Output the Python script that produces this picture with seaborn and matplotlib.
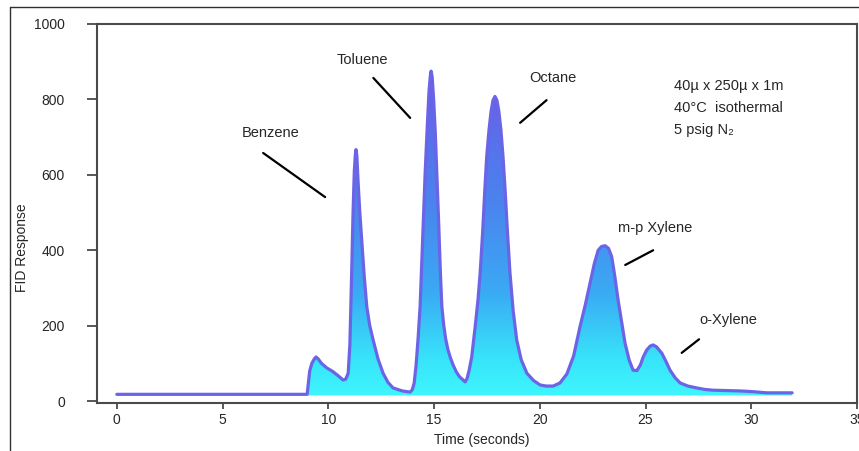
import numpy as np
import pandas as pd
import matplotlib.pyplot as plt
import seaborn as sns
from matplotlib.colors import LinearSegmentedColormap
from matplotlib.lines import Line2D

# chromatogram trace (seconds, FID response)
time = [0.0, 9.0, 9.05, 9.12, 9.22, 9.34, 9.42, 9.52, 9.68, 9.93, 10.2,
        10.45, 10.7, 10.82, 10.94, 11.02, 11.1, 11.17, 11.23, 11.28, 11.31,
        11.35, 11.41, 11.49, 11.58, 11.7, 11.82, 11.96, 12.12, 12.35, 12.59,
        12.82, 13.06, 13.5, 13.87, 13.97, 14.06, 14.15, 14.25, 14.34, 14.45,
        14.58, 14.68, 14.76, 14.82, 14.86, 14.91, 14.98, 15.06, 15.13, 15.22,
        15.3, 15.37, 15.46, 15.55, 15.65, 15.76, 15.9, 16.05, 16.2, 16.37,
        16.47, 16.56, 16.66, 16.78, 16.95, 17.08, 17.18, 17.3, 17.4, 17.49,
        17.6, 17.7, 17.79, 17.88, 17.97, 18.06, 18.16, 18.26, 18.36, 18.47,
        18.59, 18.74, 18.91, 19.12, 19.39, 19.7, 20.01, 20.3, 20.63, 20.95,
        21.28, 21.6, 21.9, 22.15, 22.38, 22.58, 22.76, 22.92, 23.09, 23.25,
        23.4, 23.55, 23.7, 23.87, 24.03, 24.22, 24.41, 24.59, 24.75, 24.89,
        25.05, 25.22, 25.36, 25.52, 25.77, 25.96, 26.16, 26.4, 26.64, 27.0,
        27.42, 27.8, 28.19, 28.8, 29.47, 30.1, 30.73, 31.3, 31.93]
resp = [18, 18, 45, 80, 100, 112, 117, 112, 100, 88, 79,
        68, 56, 58, 74, 150, 330, 500, 610, 655, 667,
        650, 580, 500, 428, 330, 250, 200, 162, 112, 74,
        50, 35, 27, 24, 30, 48, 95, 170, 250, 410,
        606, 730, 820, 860, 875, 860, 800, 710, 606, 470,
        340, 250, 200, 165, 138, 117, 96, 78, 65, 56,
        51, 60, 82, 117, 200, 270, 340, 450, 560, 649,
        720, 770, 798, 808, 798, 770, 720, 649, 560, 450,
        340, 240, 162, 110, 74, 55, 43, 40, 40, 48,
        72, 120, 197, 255, 314, 365, 400, 410, 412, 405,
        383, 330, 269, 210, 154, 110, 82, 81, 95, 117,
        135, 146, 149, 144, 127, 106, 82, 62, 48, 40,
        35, 31, 29, 28, 27, 25, 22, 22, 22]

peak_names = ['Benzene', 'Toluene', 'Octane', 'm-p Xylene', 'o-Xylene']
conditions = ['40\u00b5 x 250\u00b5 x 1m', '40\u00b0C  isothermal', '5 psig N\u2082']

df = pd.DataFrame({'Time': time, 'FID': resp})

sns.set_style('ticks')
plt.rcParams['font.family'] = ['Liberation Sans', 'DejaVu Sans']

fig = plt.figure(figsize=(8.59, 4.51), dpi=100)
ax = fig.add_axes([0.1126, 0.1064, 0.8851, 0.8404])

# gradient fill under the trace
cmap = LinearSegmentedColormap.from_list('fid', [
    (0.0, '#40f8fe'), (0.12, '#38e4fa'), (0.32, '#3aaaf4'),
    (0.58, '#4a84ee'), (1.0, '#6a5ae8')])
poly = ax.fill_between(df['Time'], df['FID'], 15, color='none', lw=0)
grad = np.linspace(0, 1, 256).reshape(-1, 1)
im = ax.imshow(grad, extent=[0, 32, 0, 900], origin='lower', aspect='auto',
               cmap=cmap, zorder=1)
im.set_clip_path(poly.get_paths()[0], ax.transData)

sns.lineplot(data=df, x='Time', y='FID', ax=ax, color='#6c64e6', lw=2.3,
             sort=False, estimator=None, zorder=2)

ax.set_xlim(-0.95, 35)
ax.set_ylim(-5, 1000)
ax.set_xticks(range(0, 36, 5))
ax.set_yticks(range(0, 1001, 200))

for s in ax.spines.values():
    s.set_color('#4a4a4a')
    s.set_linewidth(1.5)
ax.tick_params(axis='y', length=7, width=1.3, color='#4a4a4a', pad=16, labelsize=10)
ax.tick_params(axis='x', length=4, width=1.3, color='#4a4a4a', pad=3, labelsize=10)

ax.set_xlabel('Time (seconds)', fontsize=10)
ax.set_ylabel('FID Response', fontsize=10)
ax.xaxis.set_label_coords(0.507, -0.079)
ax.yaxis.set_label_coords(-0.089, 0.41)

# peak labels with leader lines
label_pos = [(7.25, 711), (11.6, 905), (20.63, 857), (25.46, 459), (28.9, 215)]
leaders = [((6.92, 658), (9.85, 541)), ((12.13, 857), (13.87, 751)),
           ((20.32, 798), (19.07, 738)), ((25.36, 400), (24.04, 361)),
           ((27.53, 164), (26.71, 128))]
for name, (tx, ty), (p0, p1) in zip(peak_names, label_pos, leaders):
    ax.text(tx, ty, name, fontsize=10.5, ha='center', va='center')
    ax.plot([p0[0], p1[0]], [p0[1], p1[1]], color='black', lw=1.6)

for i, line in enumerate(conditions):
    ax.text(26.35, 836 - i * 58, line, fontsize=10.5, ha='left', va='center')

# outer frame of the picture (left and top edges)
fig.add_artist(Line2D([0.0116, 0.0116], [0, 0.9845], color='#303030', lw=1))
fig.add_artist(Line2D([0.0116, 1.0], [0.9845, 0.9845], color='#303030', lw=1))

fig.savefig('out.png', dpi=100)
